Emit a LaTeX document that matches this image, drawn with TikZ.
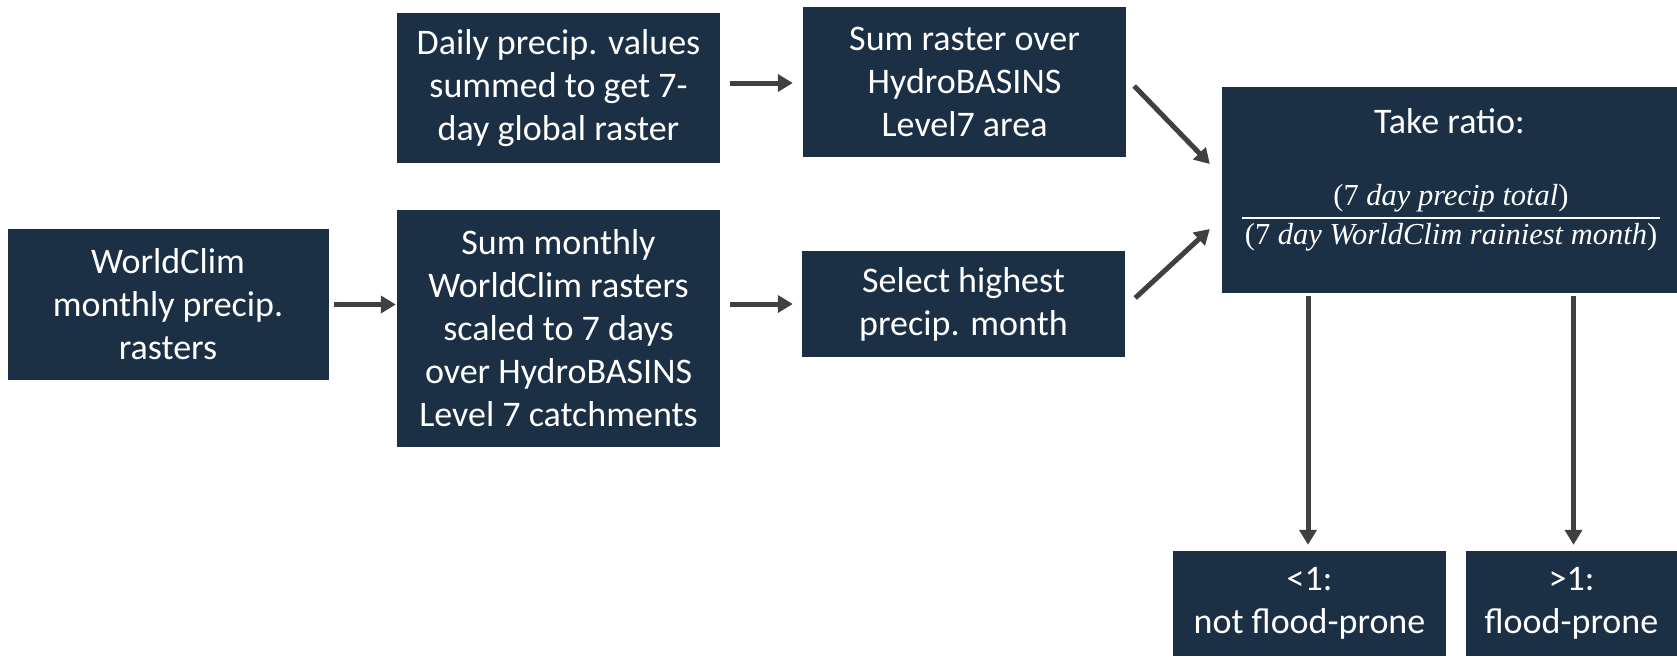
\documentclass[tikz,border=0pt]{standalone}
\usepackage{fontspec}
\setmainfont{Carlito}
\newfontfamily\eqfont{Liberation Serif}
\usetikzlibrary{arrows.meta}

\tikzset{
  box/.style={fill=kNavy,text=white,align=center,inner sep=0pt,
    font=\fontsize{36}{43}\selectfont},
  arr/.style={draw=kGrey,line width=5pt,-{Triangle[width=17pt,length=15pt]}},
}

\begin{document}
\begin{tikzpicture}[x=1pt,y=1pt]
  % colors
  \definecolor{kNavy}{HTML}{1B2F45}
  \definecolor{kGrey}{HTML}{404040}
  \useasboundingbox (0,0) rectangle (1677,-656);

  % input boxes
  \node[box,minimum width=321pt,minimum height=151pt] (wc) at (168,-304.5)
    {WorldClim\\monthly precip.\\rasters};
  \node[box,minimum width=323pt,minimum height=150pt] (daily) at (558.5,-88)
    {Daily precip. values\\summed to get 7-\\day global raster};
  \node[box,minimum width=323pt,minimum height=237pt] (summon) at (558.5,-328.5)
    {Sum monthly\\WorldClim rasters\\scaled to 7 days\\over HydroBASINS\\Level 7 catchments};
  \node[box,minimum width=323pt,minimum height=150pt] (sumras) at (964.5,-82)
    {Sum raster over\\HydroBASINS\\Level7 area};
  \node[box,minimum width=323pt,minimum height=106pt] (select) at (963.5,-304)
    {Select highest\\precip. month};

  % ratio box
  \node[box,minimum width=455pt,minimum height=206pt] (ratio) at (1449.5,-190) {};
  \node[box,fill=none] (ratiotitle) at (1449.5,-121) {Take ratio:};
  \node[text=white,inner sep=0pt,font=\eqfont\fontsize{30.5}{37}\selectfont] (ratiofrac) at (1451,-218)
    {\setlength{\tabcolsep}{3pt}\setlength{\arrayrulewidth}{2pt}%
     \begin{tabular}{c}
       (7 \textit{day precip total})\\ \hline
       (7 \textit{day WorldClim rainiest month})
     \end{tabular}};

  % outcome boxes
  \node[box,minimum width=273pt,minimum height=105pt] (notfp) at (1309.5,-603.5)
    {<1:\\not flood-prone};
  \node[box,minimum width=211pt,minimum height=105pt] (fp) at (1571.5,-603.5)
    {>1:\\flood-prone};

  % arrows
  \draw[arr] ([xshift=10pt,yshift=5pt]daily.east) -- ([xshift=-10pt,yshift=5pt]daily.east -| sumras.west);
  \foreach \a/\b/\r/\s/\e in {wc/summon/wc/5/1,summon/select/select/10/9} {
    \draw[arr] ([xshift=\s pt]\a.east |- \r) -- ([xshift=-\e pt]\b.west |- \r);
  };
  \draw[arr] ([xshift=8pt,yshift=-4pt]sumras.east) -- ([xshift=-12pt,yshift=26pt]ratio.west);
  \draw[arr] ([xshift=10pt,yshift=6pt]select.east) -- ([xshift=-12pt,yshift=-39pt]ratio.west);
  \foreach \b/\dx in {notfp/-1.5,fp/2} {
    \draw[arr] ([xshift=\dx pt,yshift=-3pt]ratio.south -| \b) -- ([xshift=\dx pt,yshift=6pt]\b.north);
  };
\end{tikzpicture}
\end{document}
